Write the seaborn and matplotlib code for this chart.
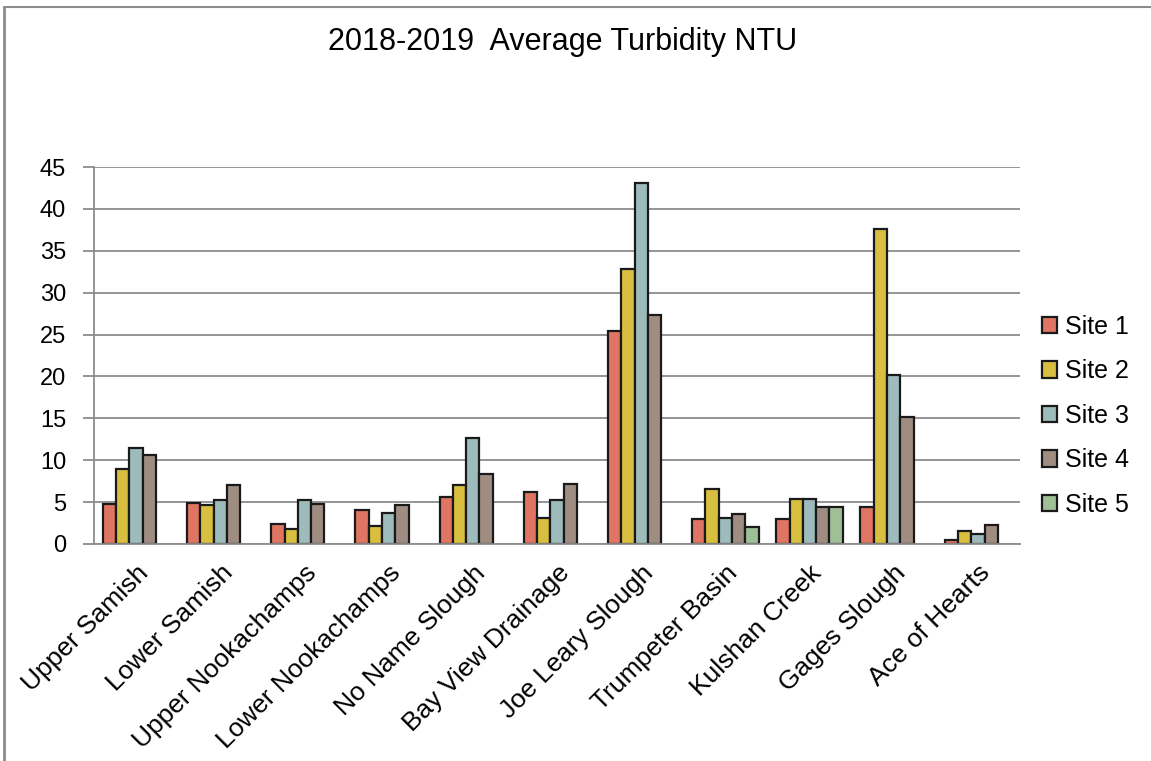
import numpy as np
import pandas as pd
import seaborn as sns
import matplotlib.pyplot as plt
from matplotlib.lines import Line2D

locations = ["Upper Samish", "Lower Samish", "Upper Nookachamps", "Lower Nookachamps",
             "No Name Slough", "Bay View Drainage", "Joe Leary Slough", "Trumpeter Basin",
             "Kulshan Creek", "Gages Slough", "Ace of Hearts"]
site1 = [4.8, 4.9, 2.4, 4.1, 5.6, 6.2, 25.4, 3.0, 3.0, 4.4, 0.5]
site2 = [9.0, 4.7, 1.8, 2.2, 7.0, 3.1, 32.8, 6.6, 5.4, 37.6, 1.6]
site3 = [11.4, 5.2, 5.2, 3.7, 12.7, 5.3, 43.1, 3.1, 5.4, 20.2, 1.2]
site4 = [10.6, 7.1, 4.8, 4.6, 8.3, 7.2, 27.3, 3.6, 4.4, 15.2, 2.3]
site5 = [np.nan, np.nan, np.nan, np.nan, np.nan, np.nan, np.nan, 2.0, 4.4, np.nan, np.nan]
sites = ["Site 1", "Site 2", "Site 3", "Site 4", "Site 5"]
colors = ["#E07563", "#D9BF40", "#9DBBBB", "#A08D82", "#9FBF97"]

df = pd.DataFrame({"Location": locations, "Site 1": site1, "Site 2": site2,
                   "Site 3": site3, "Site 4": site4, "Site 5": site5})
long = df.melt(id_vars="Location", var_name="Site", value_name="NTU").dropna()

sns.set_style("white")
plt.rcParams['font.family'] = ['Liberation Sans', 'DejaVu Sans']
plt.rcParams['text.color'] = 'black'

fig = plt.figure(figsize=(11.51, 7.61), dpi=100)
ax = fig.add_axes([94/1151, 1-544/761, (1020-94)/1151, (544-167)/761])

sns.barplot(data=long, x="Location", y="NTU", hue="Site", order=locations,
            hue_order=sites, palette=colors, width=0.79, edgecolor="#1a1a1a",
            linewidth=1.6, ax=ax, saturation=1)

ax.set_ylim(0, 45)
ax.set_xlim(-0.5, len(locations) - 0.5)
ax.set_yticks(range(0, 46, 5))
ax.yaxis.grid(True, color="#8c8c8c", linewidth=1.3)
ax.set_axisbelow(True)
for s in ["top", "right"]:
    ax.spines[s].set_visible(False)
for s in ["left", "bottom"]:
    ax.spines[s].set_color("#8c8c8c")
    ax.spines[s].set_linewidth(1.3)
ax.tick_params(axis="y", length=8, width=1.3, color="#8c8c8c", labelcolor="black",
               labelsize=17, pad=12, left=True)
ax.tick_params(axis="x", length=0, labelsize=19, labelcolor="black", pad=12)
ax.set_xticks(range(len(locations)))
ax.set_xticklabels(locations, rotation=45, ha="right", rotation_mode="anchor")
ax.set_xlabel("")
ax.set_ylabel("")

handles, labels = ax.get_legend_handles_labels()
ax.legend(handles, labels, loc="center left", bbox_to_anchor=(0.999, 0.34),
          frameon=False, fontsize=18, handlelength=0.62, handleheight=0.62,
          handletextpad=0.3, labelspacing=0.82)

fig.text(563/1151, 1-42/761, "2018-2019  Average Turbidity NTU", ha="center",
         va="center", fontsize=22)

# outer border (only top and left show in the reference)
fig.add_artist(Line2D([3.5/1151, 1], [1-6.5/761, 1-6.5/761], transform=fig.transFigure,
                      color="#8c8c8c", linewidth=1.5))
fig.add_artist(Line2D([3.5/1151, 3.5/1151], [0, 1-6.5/761], transform=fig.transFigure,
                      color="#8c8c8c", linewidth=2))

fig.savefig("out.png", dpi=100)
